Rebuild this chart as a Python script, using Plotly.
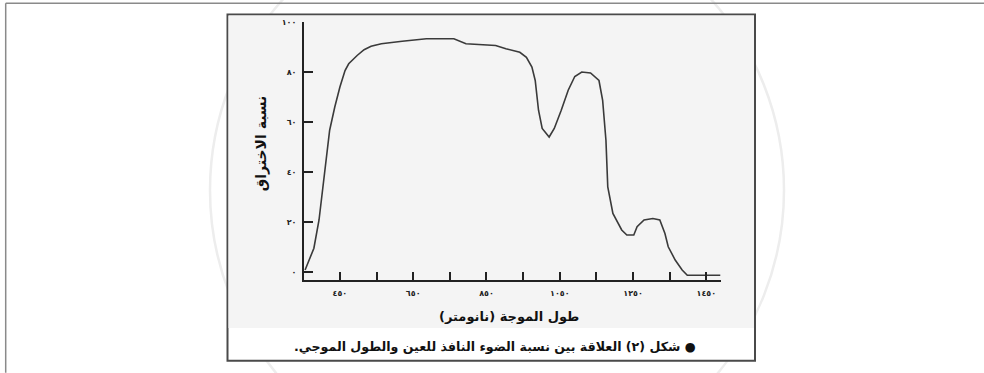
import plotly.graph_objects as go

# ---- data ----
wavelength_nm = [355, 379, 393, 403, 412, 422, 436, 450, 464, 474, 497, 516, 535, 563, 620, 676, 686,
                 761, 794, 875, 903, 941, 959, 974, 983, 992, 1002, 1021, 1035, 1054, 1073, 1091, 1110,
                 1134, 1157, 1167, 1176, 1181, 1195, 1219, 1233, 1252, 1261, 1280, 1304, 1323, 1337,
                 1346, 1365, 1384, 1398, 1440, 1488]
transmission_pct = [0.8, 9.5, 20.8, 34, 46, 56.7, 66, 74, 80.6, 83.3, 86.6, 88.9, 90.3, 91.3, 92.3, 93, 93.3,
                    93.3, 91.3, 90.6, 89.3, 87.9, 85.9, 82, 76.6, 64.7, 57.4, 54, 57.4, 64.7, 72.7, 78.2, 80,
                    79.6, 76.6, 68.7, 52.7, 34, 23.4, 16.8, 14.8, 14.8, 18.1, 20.8, 21.4, 20.8, 15.4,
                    10.1, 4.8, 0.8, -1.3, -1.3, -1.3]

x_tick_vals = [450, 550, 650, 750, 850, 950, 1050, 1150, 1250, 1350, 1450]
x_tick_text = ["٤٥٠", "", "٦٥٠", "", "٨٥٠", "", "١٠٥٠", "", "١٢٥٠", "", "١٤٥٠"]
y_tick_vals = [0, 20, 40, 60, 80, 100]
y_tick_text = ["٠", "٢٠", "٤٠", "٦٠", "٨٠", "١٠٠"]

x_title = "طول الموجة (نانومتر)"
y_title = "نسبة الاختراق"
caption = "● شكل (٢) العلاقة بين نسبة الضوء النافذ للعين والطول الموجي."

RLM = "\u200F"
FONT = "DejaVu Sans"

# ---- layout geometry (pixels) ----
W, H = 984, 373
PL, PR, PT, PB = 304, 721, 21.5, 280


def px(xp):
    return (xp - PL) / (PR - PL)


def py(yp):
    return (PB - yp) / (PB - PT)


fig = go.Figure()
fig.add_trace(go.Scatter(
    x=wavelength_nm, y=transmission_pct, mode="lines",
    line=dict(color="#3a3a3a", width=1.6), hoverinfo="skip", showlegend=False,
))

shapes = [
    # faint watermark circle
    dict(type="circle", xref="paper", yref="paper", layer="below",
         x0=px(210), x1=px(784), y0=py(190 + 287), y1=py(190 - 287),
         line=dict(color="#ededed", width=2.5)),
    # page border lines
    dict(type="line", xref="paper", yref="paper", layer="below",
         x0=px(5.7), x1=px(984), y0=py(2.7), y1=py(2.7), line=dict(color="#8a8a8a", width=1.5)),
    dict(type="line", xref="paper", yref="paper", layer="below",
         x0=px(5.7), x1=px(5.7), y0=py(2.7), y1=py(373), line=dict(color="#8a8a8a", width=1.5)),
    # figure box
    dict(type="rect", xref="paper", yref="paper", layer="below",
         x0=px(227.5), x1=px(755), y0=py(14), y1=py(361),
         fillcolor="white", line=dict(color="#4a4a4a", width=2)),
    dict(type="rect", xref="paper", yref="paper", layer="below",
         x0=px(228.5), x1=px(754), y0=py(15), y1=py(328),
         fillcolor="#f4f4f4", line=dict(width=0)),
]

annotations = [
    dict(text=RLM + x_title + RLM, xref="paper", yref="paper", x=px(509), y=py(317),
         showarrow=False, font=dict(family=FONT, size=13, color="#111111", weight="bold"),
         xanchor="center", yanchor="middle"),
    dict(text=RLM + y_title + RLM, xref="paper", yref="paper", x=px(261), y=py(143),
         showarrow=False, textangle=-90, font=dict(family=FONT, size=14, color="#111111", weight="bold"),
         xanchor="center", yanchor="middle"),
    dict(text=RLM + caption + RLM, xref="paper", yref="paper", x=px(495), y=py(347),
         showarrow=False, font=dict(family=FONT, size=12.6, color="#111111", weight="bold"),
         xanchor="center", yanchor="middle"),
]

fig.update_layout(
    width=W, height=H,
    margin=dict(l=PL, r=W - PR, t=PT, b=H - PB, pad=0),
    paper_bgcolor="white", plot_bgcolor="rgba(0,0,0,0)",
    shapes=shapes, annotations=annotations, showlegend=False,
)
fig.update_xaxes(
    range=[352, 1490], showgrid=False, zeroline=False,
    showline=True, linecolor="#222222", linewidth=2,
    tickmode="array", tickvals=x_tick_vals, ticktext=x_tick_text,
    ticks="inside", ticklen=8, tickwidth=1.6, tickcolor="#222222",
    tickfont=dict(family=FONT, size=8, color="#222222", weight="bold"),
    ticklabelstandoff=4,
)
fig.update_yaxes(
    range=[-3.2, 100], showgrid=False, zeroline=False,
    showline=True, linecolor="#222222", linewidth=2,
    tickmode="array", tickvals=y_tick_vals, ticktext=y_tick_text,
    ticks="inside", ticklen=9, tickwidth=2, tickcolor="#222222",
    tickfont=dict(family=FONT, size=8, color="#222222", weight="bold"),
    ticklabelstandoff=4,
)

fig.write_html("out.html", config={"displayModeBar": False},
               post_script="document.body.style.margin='0';document.body.style.overflow='hidden';")
